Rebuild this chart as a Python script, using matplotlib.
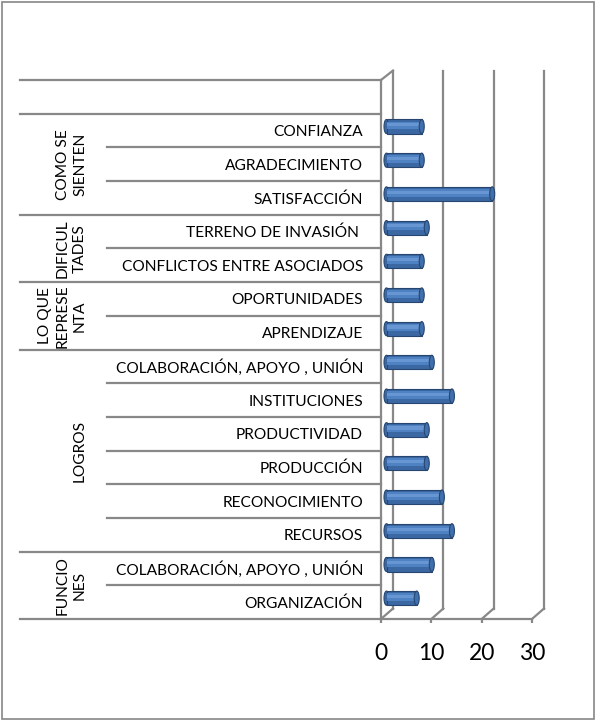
import matplotlib
matplotlib.use('Agg')
import matplotlib.pyplot as plt
from matplotlib import transforms
from matplotlib.lines import Line2D
from matplotlib.patches import Ellipse, Rectangle

# Category rows from bottom to top (last row is the empty one at the top)
categories = ['ORGANIZACIÓN', 'COLABORACIÓN, APOYO , UNIÓN', 'RECURSOS', 'RECONOCIMIENTO',
              'PRODUCCIÓN', 'PRODUCTIVIDAD', 'INSTITUCIONES', 'COLABORACIÓN, APOYO , UNIÓN',
              'APRENDIZAJE', 'OPORTUNIDADES', 'CONFLICTOS ENTRE ASOCIADOS', 'TERRENO DE INVASIÓN ',
              'SATISFACCIÓN', 'AGRADECIMIENTO', 'CONFIANZA', '']
values = [6, 9, 13, 11, 8, 8, 13, 9, 7, 7, 7, 8, 21, 7, 7]
x_ticks = [0, 10, 20, 30]

group_names = ['FUNCIO\nNES', 'LOGROS', 'LO QUE\nREPRESE\nNTA', 'DIFICUL\nTADES', 'COMO SE\nSIENTEN', '']
group_first = [0, 2, 8, 10, 12, 15]
group_last = [1, 7, 9, 11, 14, 15]

W, H, DPI = 596, 721, 100
GRAY = '#888888'
FONT = ['Lato', 'DejaVu Sans']

plt.rcParams['font.family'] = FONT

fig = plt.figure(figsize=(W / DPI, H / DPI), dpi=DPI)
fig.patch.set_facecolor('white')

# Plot area (front plane), pixel based placement
left_px, right_px, top_px, bottom_px = 381, 532, 80, 619
ax = fig.add_axes([left_px / W, 1 - bottom_px / H, (right_px - left_px) / W, (bottom_px - top_px) / H])
ax.set_xlim(0, 30)
ax.set_ylim(-0.5, len(categories) - 0.5)
ax.set_facecolor('none')

# 3D depth offset (back wall) converted to data units
depth_dx = 12 * 30 / (right_px - left_px)
depth_dy = 10.5 * len(categories) / (bottom_px - top_px)
y_lo, y_hi = -0.5, len(categories) - 0.5

# Back wall gridlines and floor diagonals
for v in x_ticks:
    ax.add_line(Line2D([v + depth_dx, v + depth_dx], [y_lo + depth_dy, y_hi + depth_dy * 0.9],
                       color=GRAY, lw=1.6, clip_on=False, zorder=1))
    ax.add_line(Line2D([v, v + depth_dx], [y_lo, y_lo + depth_dy],
                       color=GRAY, lw=1.6, clip_on=False, zorder=1))
# Side wall top edge
ax.add_line(Line2D([0, depth_dx], [y_hi, y_hi + depth_dy * 0.9], color=GRAY, lw=1.6, clip_on=False, zorder=1))

# Bars at mid depth
bar_shift = transforms.ScaledTranslation(5.5 / DPI, 4 / DPI, fig.dpi_scale_trans)
bar_tr = ax.transData + bar_shift
bh = 0.42
cap_w = 5 * 30 / (right_px - left_px)
for i, v in enumerate(values):
    ax.barh(i, v, height=bh, color='#3b68a3', edgecolor='#27466f', lw=0.8, transform=bar_tr, zorder=3)
    ax.barh(i + bh * 0.08, v, height=bh * 0.55, color='#4f82c2', lw=0, transform=bar_tr, zorder=4)
    ax.barh(i + bh * 0.12, v, height=bh * 0.22, color='#6796d2', lw=0, transform=bar_tr, zorder=4)
    ax.add_patch(Ellipse((0, i), cap_w, bh, facecolor='#3b68a3', edgecolor='#27466f', lw=0.8,
                         transform=bar_tr, zorder=2))
    ax.add_patch(Ellipse((v, i), cap_w, bh, facecolor='#3f6fad', edgecolor='#27466f', lw=0.8,
                         transform=bar_tr, zorder=5))

# Axes spines and ticks
for s in ['top', 'right']:
    ax.spines[s].set_visible(False)
for s in ['left', 'bottom']:
    ax.spines[s].set_color(GRAY)
    ax.spines[s].set_linewidth(1.6)
ax.set_xticks(x_ticks)
ax.set_xticklabels([str(t) for t in x_ticks], fontsize=16.5)
ax.tick_params(axis='x', direction='out', length=3, width=1.6, color=GRAY, pad=14)
ax.set_yticks(range(len(categories)))
ax.set_yticklabels(categories, fontsize=11.2)
ax.tick_params(axis='y', length=0, pad=13)

# Row separator lines for the hierarchical category axis
row_tr = transforms.blended_transform_factory(fig.transFigure, ax.transData)
full_bounds = [g - 0.5 for g in group_first] + [y_hi]
for k in range(len(categories) + 1):
    yb = k - 0.5
    x0 = 20 if yb in full_bounds else 107
    fig.add_artist(Line2D([x0 / W, left_px / W], [yb, yb], color=GRAY, lw=1.6, transform=row_tr))

# Group labels (rotated)
for name, a, b in zip(group_names, group_first, group_last):
    if name:
        fig.text(87 / W, (a + b) / 2, name, rotation=90, ha='right', va='center',
                 multialignment='center', fontsize=11.2, transform=row_tr, linespacing=1.3)

# Outer frame
fig.add_artist(Rectangle((2 / W, 2 / H), (W - 4) / W, (H - 4) / H, transform=fig.transFigure,
                         fill=False, edgecolor='#868686', lw=1.2))

fig.savefig('out.png', dpi=DPI)
